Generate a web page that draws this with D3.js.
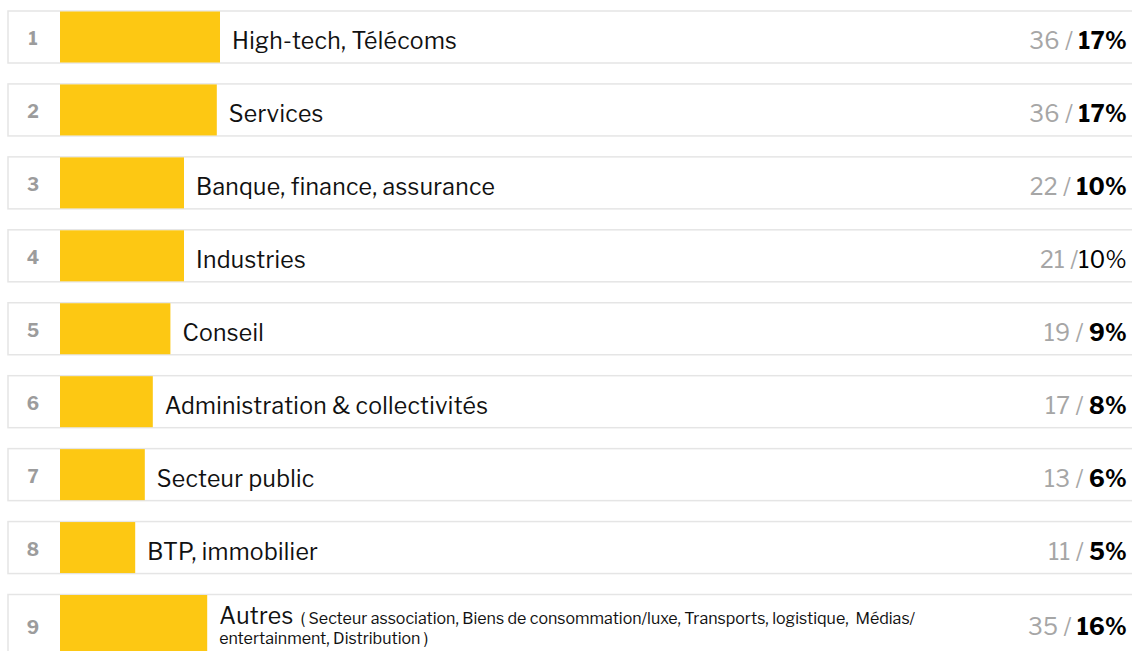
<!DOCTYPE html>
<html>
<head>
<meta charset="utf-8">
<script src="https://cdn.jsdelivr.net/npm/d3@7"></script>
<style>
  html, body { margin: 0; padding: 0; background: #fff; overflow: hidden; }
  svg { display: block; font-family: 'Libre Franklin', Inter, 'Noto Sans', sans-serif; }
  .note { white-space: pre; }
</style>
</head>
<body>
<div id="draw-space"></div>
<script>
const chart = d3.select('#draw-space');

// data
const ranks = [1, 2, 3, 4, 5, 6, 7, 8, 9];
const sectors = ['High-tech, Télécoms', 'Services', 'Banque, finance, assurance', 'Industries',
                 'Conseil', 'Administration & collectivités', 'Secteur public', 'BTP, immobilier', 'Autres'];
const sectorNotes = [null, null, null, null, null, null, null, null,
                     ['( Secteur association, Biens de consommation/luxe, Transports, logistique,  Médias/',
                      'entertainment, Distribution )']];
const counts = [36, 36, 22, 21, 19, 17, 13, 11, 35];
const percents = [17, 17, 10, 10, 9, 8, 6, 5, 16];
// relative bar length as drawn (longest = 100)
const barLengths = [100, 98, 77.5, 77.5, 69, 58, 53, 47, 92];

const W = 1132, H = 651;

const svg = chart.append('svg')
                 .attr('width', W)
                 .attr('height', H);

const rows = ranks.map((r, i) => ({
  rank: r,
  sector: sectors[i],
  note: sectorNotes[i],
  count: counts[i],
  pct: percents[i],
  len: barLengths[i],
  tall: sectorNotes[i] != null
}));

const yScale = d3.scaleLinear()
                 .domain([1, 9])
                 .range([11, 11 + 73 * 8 - 0.5]);

const rowH = d => d.tall ? 62 : 52;

const xScale = d3.scaleLinear()
                 .domain([0, 100])
                 .range([60, 220]);

const g = svg.selectAll('.row')
             .data(rows)
             .enter()
             .append('g')
             .attr('class', 'row')
             .attr('transform', d => `translate(0,${yScale(d.rank)})`);

g.append('rect')
 .attr('x', 8)
 .attr('y', 0)
 .attr('width', W)
 .attr('height', rowH)
 .attr('fill', '#fff')
 .attr('stroke', '#e5e5e5')
 .attr('stroke-width', 1.5);

g.append('rect')
 .attr('x', xScale(0))
 .attr('y', 0.5)
 .attr('width', d => xScale(d.len) - xScale(0))
 .attr('height', d => rowH(d) - 1)
 .attr('fill', '#fdc813');

g.append('text')
 .attr('x', 33)
 .attr('y', d => d.tall ? 39 : 34)
 .attr('text-anchor', 'middle')
 .attr('font-size', 18)
 .attr('font-weight', 700)
 .attr('fill', '#9c9c9c')
 .text(d => d.rank);

const label = g.append('text')
               .attr('x', d => xScale(d.len) + 12)
               .attr('y', 38)
               .attr('fill', '#111')
               .attr('font-size', 23)
               .attr('letter-spacing', 0.3)
               .text(d => d.sector);

// the long "Autres" row: title and two-line note
const noted = g.filter(d => d.note);
const notedLabel = label.filter(d => d.note).attr('y', 29);
const titleLen = notedLabel.node().getComputedTextLength();

noted.append('text')
     .attr('class', 'note')
     .attr('x', d => xScale(d.len) + 12 + titleLen + 7)
     .attr('y', 29)
     .attr('font-size', 16)
     .attr('fill', '#111')
     .text(d => d.note[0]);

noted.append('text')
     .attr('class', 'note')
     .attr('x', d => xScale(d.len) + 12)
     .attr('y', 49.5)
     .attr('font-size', 16)
     .attr('fill', '#111')
     .text(d => d.note[1]);

const val = g.append('text')
             .attr('x', 1127)
             .attr('y', d => d.tall ? 40 : 38)
             .attr('text-anchor', 'end')
             .attr('font-size', 23)
             .attr('letter-spacing', 0.3);

val.append('tspan')
   .attr('fill', '#a6a6a6')
   .text(d => d.rank === 4 ? d.count + ' /' : d.count + ' / ');

val.append('tspan')
   .attr('fill', '#000')
   .attr('font-weight', d => d.rank === 4 ? 400 : 700)
   .text(d => d.pct + '%');
</script>
</body>
</html>
